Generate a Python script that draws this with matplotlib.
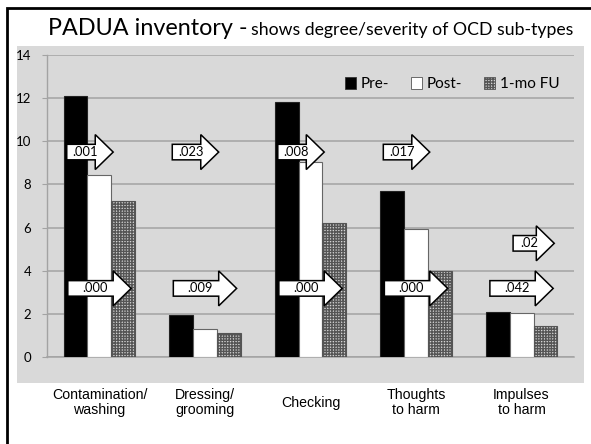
import matplotlib
matplotlib.use("Agg")
import matplotlib.pyplot as plt
from matplotlib.patches import Rectangle, Polygon
from matplotlib.lines import Line2D
import matplotlib.transforms as mtransforms

# ---- data ----
categories = ["Contamination/\nwashing", "Dressing/\ngrooming", "Checking",
              "Thoughts\nto harm", "Impulses\nto harm"]
pre = [12.1, 1.97, 11.8, 7.7, 2.1]
post = [8.44, 1.28, 9.05, 5.92, 2.02]
fu = [7.25, 1.1, 6.23, 4.0, 1.45]
series_labels = ["Pre-", "Post-", "1-mo FU"]
yticks = [0, 2, 4, 6, 8, 10, 12, 14]

# p-value annotations
p_upper = [".001", ".023", ".008", ".017"]
p_lower = [".000", ".009", ".000", ".000", ".042"]
p_extra = ".02"

# ---- layout ----
W, H = 591, 444
fig = plt.figure(figsize=(W / 100, H / 100), dpi=100)
fig.patch.set_facecolor("white")

def fx(px):
    return px / W

def fy(py):
    return 1 - py / H

# outer frame (left and top)
fig.add_artist(Line2D([fx(7), fx(7), fx(W + 5)], [fy(H + 5), fy(8), fy(8)],
                      transform=fig.transFigure, color="black", lw=2.0,
                      solid_joinstyle="miter"))

# gray chart area
fig.add_artist(Rectangle((fx(16.7), fy(383)), fx(583.7) - fx(16.7), fy(46) - fy(383),
                         transform=fig.transFigure, facecolor="#d9d9d9",
                         edgecolor="none", zorder=0))

ax_l, ax_r, ax_t, ax_b = 46.7, 574.3, 55, 357
ax = fig.add_axes([fx(ax_l), fy(ax_b), fx(ax_r) - fx(ax_l), fy(ax_t) - fy(ax_b)])
ax.set_facecolor("none")
ax.set_xlim(-0.5, len(categories) - 0.5)
ax.set_ylim(0, 14)

ax.set_axisbelow(True)
ax.yaxis.grid(True, color="#a3a3a3", lw=1.1)
for s in ["top", "right"]:
    ax.spines[s].set_visible(False)
ax.spines["left"].set_color("#a3a3a3")
ax.spines["bottom"].set_color("#a3a3a3")
ax.spines["left"].set_linewidth(1.0)
ax.spines["bottom"].set_linewidth(1.1)
ax.set_yticks(yticks)
ax.set_yticklabels([str(v) for v in yticks], family="Lato", fontsize=9.5)
ax.tick_params(axis="y", direction="out", length=3.6, color="#a3a3a3", pad=7.5)
ax.tick_params(axis="x", length=0, labelbottom=False)

x = list(range(len(categories)))
w = 0.227
plt.rcParams["hatch.linewidth"] = 1.0
plt.rcParams["hatch.color"] = "#5c5c5c"
ax.bar([i - w for i in x], pre, width=w, color="black", edgecolor="#222222", lw=0.8, zorder=3)
ax.bar(x, post, width=w, color="white", edgecolor="#666666", lw=0.8, zorder=3)
ax.bar([i + w for i in x], fu, width=w, color="#d4d4d4", edgecolor="#555555", lw=0.8,
       hatch="++++++", zorder=3)

# category labels
trans = mtransforms.blended_transform_factory(ax.transData, ax.transAxes)
for i, c in enumerate(categories):
    ax.text(i, -(402.5 - ax_b) / (ax_b - ax_t), c, transform=trans, ha="center",
            va="center", family="Liberation Sans", fontsize=10.2, linespacing=1.05,
            multialignment="center")

# arrows
def block_arrow(xl, xt, y, label, head=0.17, bh=0.36, hh=0.81):
    xh = xt - head
    pts = [(xl, y - bh), (xh, y - bh), (xh, y - hh), (xt, y), (xh, y + hh),
           (xh, y + bh), (xl, y + bh)]
    ax.add_patch(Polygon(pts, closed=True, facecolor="white", edgecolor="black",
                         lw=1.1, zorder=5, joinstyle="miter"))
    ax.text((xl + xh) / 2 + 0.04, y, label, ha="center", va="center",
            family="Lato", fontsize=9.3, zorder=6)

for i, lab in enumerate(p_upper):
    block_arrow(i - 0.31, i + 0.13, 9.5, lab)
for i, lab in enumerate(p_lower):
    block_arrow(i - 0.30, i + 0.30, 3.18, lab)
block_arrow(4 - 0.08, 4 + 0.31, 5.27, p_extra)

# legend
handles = [Rectangle((0, 0), 1, 1, facecolor="black", edgecolor="#333333", lw=0.6),
           Rectangle((0, 0), 1, 1, facecolor="white", edgecolor="#555555", lw=0.6),
           Rectangle((0, 0), 1, 1, facecolor="#d4d4d4", edgecolor="#555555", lw=0.6,
                     hatch="++++++")]
leg = ax.legend(handles, series_labels, ncol=3, frameon=False, loc="center left",
                bbox_to_anchor=(fx(345), fy(84.3)), bbox_transform=fig.transFigure,
                borderaxespad=0, borderpad=0, handlelength=0.75, handleheight=0.75,
                handletextpad=0.3, columnspacing=1.4,
                prop={"family": "Lato", "size": 11})

# title
fig.text(fx(48), fy(35), "PADUA inventory - ", family="Lato", fontsize=16.8,
         ha="left", va="baseline")
fig.text(fx(573), fy(35), "shows degree/severity of OCD sub-types", family="Lato",
         fontsize=12.7, ha="right", va="baseline")

fig.savefig("out.png", dpi=100)
